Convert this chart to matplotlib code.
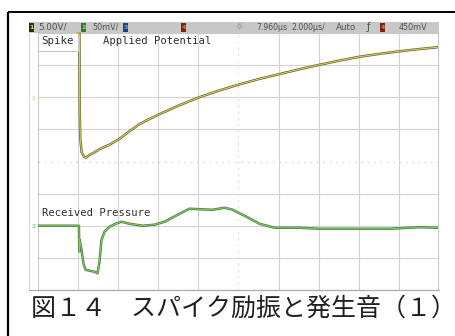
import matplotlib
matplotlib.use("Agg")
import matplotlib.pyplot as plt
import matplotlib.patheffects as pe
from matplotlib.patches import Rectangle, Polygon
import numpy as np

# ---- scope settings ----
ch1_scale = 5.0        # V/div
ch2_scale = 50.0       # mV/div
time_scale = 2.0       # us/div
delay = 7.960          # us at screen centre
ch1_offset_div = 2.0   # ch1 ground marker, divisions above centre
ch2_offset_div = -2.0  # ch2 ground marker, divisions below centre

# ---- channel 1: applied potential (V) ----
ch1_t = [-2.04, 0.0, 0.02, 0.05, 0.12, 0.25, 0.33, 0.5, 0.75, 1.0, 1.5, 2.0, 2.5,
         3.0, 3.5, 4.0, 5.0, 6.0, 7.0, 8.0, 9.0, 10.0, 11.0, 12.0, 13.0, 14.0,
         15.0, 16.0, 17.0, 17.96]
ch1_v = [15.0, 15.0, -2.0, -6.5, -8.6, -9.3, -9.4, -9.0, -8.6, -8.1, -7.4, -6.5, -5.3,
         -4.2, -3.4, -2.65, -1.25, 0.0, 1.05, 2.0, 2.85, 3.6, 4.35, 5.05, 5.7, 6.3,
         6.75, 7.15, 7.5, 7.8]

# ---- channel 2: received pressure (mV) ----
ch2_t = [-2.04, -0.02, 0.0, 0.01, 0.03, 0.11, 0.21, 0.31, 0.51, 0.76, 0.91, 1.01,
         1.11, 1.26, 1.51, 1.81, 2.11, 2.51, 3.16, 3.76, 4.26, 4.91, 5.51, 6.01,
         6.66, 7.26, 7.66, 8.36, 9.01, 9.76, 11.01, 12.01, 13.5, 15.51, 16.01,
         17.01, 17.96]
ch2_v = [0.0, 0.0, -40.0, -22.0, -24.0, -37.0, -59.0, -68.5, -70.0, -71.5, -74.0,
         -56.0, -22.0, -9.3, -1.6, 3.1, 6.2, 3.1, 0.0, 1.6, 6.2, 17.0, 26.5, 25.7,
         24.9, 28.0, 25.0, 14.0, 3.1, -3.1, -3.1, -4.7, -4.7, -4.7, -3.9, -2.3, -3.1]

header_items = [  # (x px, text, font size)
    (38, "5.00V/", 6.3), (92, "50mV/", 5.8), (256, "7.960µs", 5.6),
    (291, "2.000µs/", 5.6), (336, "Auto", 6.3), (399, "450mV", 5.8),
]
channel_boxes = [  # (x px, label, face, text colour)
    (29.5, "1", "#26300f", "#e0d060"), (81.5, "2", "#2f7a22", "#9be07a"),
    (123.5, "3", "#20407a", "#6a9ae0"), (181.5, "4", "#7a2410", "#e07a30"),
    (380.5, "4", "#7a2410", "#e07a30"),
]

caption = "図１４　スパイク励振と発生音（１）"

W, H = 456, 336
fig = plt.figure(figsize=(W / 100, H / 100), dpi=100)
fig.patch.set_facecolor("white")

# scope graticule axes
x_left = delay - 5 * time_scale
x_right = delay + 5 * time_scale
ax = fig.add_axes([38.5 / W, (H - 290) / H, 400 / W, (290 - 33) / H])
ax.set_zorder(1)
ax.set_xlim(x_left, x_right)
ax.set_ylim(-4, 4)
ax.set_facecolor("white")
for s in ax.spines.values():
    s.set_color("#c8c8c8")
    s.set_linewidth(0.8)
ax.set_xticks([])
ax.set_yticks([])

grid_c = "#d4d4d4"
for i in range(1, 10):
    xv = x_left + i * time_scale
    if i == 5:
        ax.axvline(xv, color=grid_c, lw=0.8, ls=(0, (1.5, 4.2)))
    else:
        ax.axvline(xv, color=grid_c, lw=0.8)
for j in range(-3, 4):
    if j == 0:
        ax.axhline(j, color=grid_c, lw=0.8, ls=(0, (1.5, 4.2)))
    else:
        ax.axhline(j, color=grid_c, lw=0.8)

ch1_div = np.array(ch1_v) / ch1_scale + ch1_offset_div
ch2_div = np.array(ch2_v) / ch2_scale + ch2_offset_div

ax.plot(ch1_t, ch1_div, color="#d8d26a", lw=0.7, zorder=5,
        path_effects=[pe.Stroke(linewidth=1.8, foreground="#6e6a2c"), pe.Normal()])
ax.plot(ch2_t, ch2_div, color="#86c86a", lw=0.7, zorder=5,
        path_effects=[pe.Stroke(linewidth=1.8, foreground="#4f8240"), pe.Normal()])

# overlay in pixel coordinates: frame, status bar, labels, caption
bg = fig.add_axes([0, 0, 1, 1])
bg.set_zorder(2)
bg.set_xlim(0, W)
bg.set_ylim(H, 0)
bg.axis("off")

bg.plot([8.5, 8.5], [11.5, H], color="black", lw=1.6, solid_capstyle="butt")
bg.plot([8.5, W], [11.5, 11.5], color="black", lw=1.4, solid_capstyle="butt")

bg.add_patch(Rectangle((29, 22), 410, 10.5, facecolor="#c8c8c8", edgecolor="none"))
bg.plot([29.5, 29.5], [32, 290], color="#d8d8d8", lw=0.8)
bg.plot([29, 439], [290, 290], color="#b0b0b0", lw=0.9)

for x, lab, fc, tc in channel_boxes:
    bg.add_patch(Rectangle((x, 23), 4.5, 8.5, facecolor=fc, edgecolor="none"))
    bg.text(x + 2.25, 27.5, lab, ha="center", va="center", fontsize=4.5,
            color=tc, fontweight="bold")
for x, s, fs in header_items:
    bg.text(x, 27.3, s, ha="left", va="center", fontsize=fs, color="#505050")
bg.text(238.5, 27, "☼", ha="center", va="center", fontsize=7.5, color="#8a8a8a")
bg.text(368, 27.3, "ƒ", ha="center", va="center", fontsize=7, color="#505050")

bg.add_patch(Rectangle((38.5, 32.5), 40, 18, facecolor="white", edgecolor="#c8c8c8",
                       lw=0.8, zorder=6))
mono = "DejaVu Sans Mono"
bg.text(41, 41.5, "Spike", family=mono, fontsize=7.8, color="#303030",
        va="center", ha="left", zorder=7)
bg.text(103, 41.5, "Applied Potential", family=mono, fontsize=7.6, color="#303030",
        va="center", ha="left", zorder=7)
bg.text(42, 213, "Received Pressure", family=mono, fontsize=7.6, color="#303030",
        va="center", ha="left", zorder=7)

# trigger position marker and ground markers
bg.add_patch(Polygon([[76.5, 32], [81.5, 32], [79, 35]], closed=True,
                     facecolor="#e0a020", edgecolor="none", zorder=8))
bg.text(33.5, 99, "1", fontsize=4.5, color="#d8c040", ha="center", va="center")
bg.text(33.5, 226, "2", fontsize=4.5, color="#50b040", ha="center", va="center")

bg.text(31, 309, caption, family=["Noto Sans CJK JP", "DejaVu Sans"], fontsize=18.0,
        color="#202020", ha="left", va="center")

fig.savefig("out.png", dpi=100)
